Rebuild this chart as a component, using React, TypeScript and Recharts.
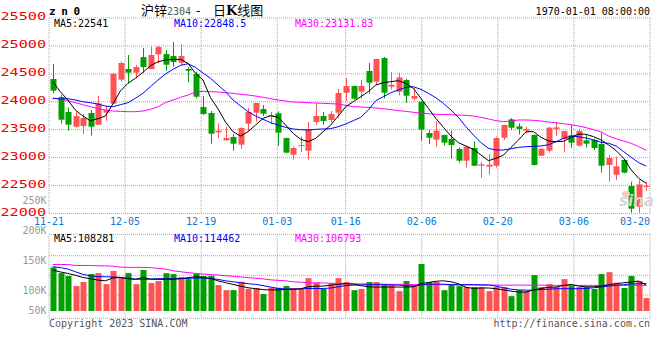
import { ComposedChart, Bar, Line, XAxis, YAxis, CartesianGrid } from "recharts";

const MONO = "DejaVu Sans Mono, monospace";
const RED = "#ff5252";
const GREEN = "#00a000";

// x axis: index of the trading day that carries a date label
const TICK_IDX = [0, 10, 20, 30, 39, 49, 59, 69, 79];
const TICK_LABELS = ["11-21", "12-05", "12-19", "01-03", "01-16", "02-06", "02-20", "03-06", "03-20"];
const PRICE_TICKS = [22000, 22500, 23000, 23500, 24000, 24500, 25000, 25500];
const VOL_TICKS = [50000, 100000, 150000, 200000, 250000];

const OPEN = [
  24408, 24085, 23817, 23554, 23566, 23799, 23590, 23805, 23966, 24396,
  24587, 24521, 24801, 24587, 24849, 24855, 24819, 24700, 24587, 24497,
  23906, 23799, 23453, 23310, 23369, 23232, 23608, 23805, 23871, 23745,
  23793, 23351, 23053, 23214, 23125, 23638, 23745, 23674, 23805, 24163,
  24282, 24181, 24551, 24360, 24783, 24270, 24181, 24390, 24055, 24002,
  23441, 23322, 23405, 23334, 23155, 22946, 23172, 22856, 22838, 22856,
  23357, 23686, 23560, 23483, 23405, 23035, 23125, 23513, 23334, 23399,
  23214, 23310, 23316, 23244, 22868, 22695, 22958, 22492, 22122, 22480,
];
const HIGH = [
  24676, 24121, 23894, 23823, 23781, 23853, 24109, 23924, 24521, 24724,
  24837, 24658, 24962, 24986, 24998, 24927, 25070, 25028, 24617, 24539,
  24103, 23835, 23614, 23554, 23423, 23542, 23888, 23978, 23942, 23817,
  23829, 23360, 23202, 23375, 23638, 23978, 23817, 23835, 24229, 24425,
  24290, 24390, 24694, 24770, 24801, 24533, 24521, 24414, 24241, 24010,
  23495, 23650, 23410, 23483, 23184, 23196, 23292, 22928, 23065, 23375,
  23590, 23709, 23614, 23554, 23410, 23165, 23554, 23644, 23480, 23590,
  23518, 23405, 23340, 23447, 23047, 23017, 22965, 22570, 22600, 22570,
];
const LOW = [
  24151, 23608, 23483, 23536, 23429, 23393, 23590, 23662, 23966, 24360,
  24330, 24420, 24521, 24587, 24688, 24557, 24628, 24652, 24348, 24062,
  23763, 23250, 23346, 23310, 23125, 23160, 23465, 23644, 23745, 23602,
  23214, 23077, 22964, 23101, 22964, 23590, 23590, 23630, 23721, 24014,
  24040, 24062, 24139, 24300, 24062, 24223, 24115, 23984, 24020, 23304,
  23244, 23196, 23220, 22981, 22910, 22820, 22850, 22641, 22695, 22820,
  23316, 23495, 23417, 23435, 22860, 23030, 23089, 23387, 23107, 23178,
  23196, 23184, 23137, 22731, 22570, 22600, 22720, 22015, 22015, 22409,
];
const CLOSE = [
  24199, 23680, 23590, 23745, 23709, 23554, 23972, 23853, 24503, 24694,
  24521, 24622, 24622, 24837, 24980, 24664, 24712, 24819, 24557, 24091,
  23781, 23429, 23483, 23351, 23250, 23530, 23817, 23978, 23787, 23757,
  23447, 23089, 23172, 23226, 23507, 23745, 23656, 23781, 24157, 24282,
  24055, 24282, 24342, 24766, 24163, 24306, 24437, 24109, 24103, 23501,
  23357, 23483, 23268, 23226, 22946, 23196, 22856, 22880, 22874, 23351,
  23584, 23536, 23513, 23513, 22868, 23160, 23536, 23542, 23477, 23268,
  23477, 23250, 23172, 22856, 22993, 22844, 22731, 22086, 22522, 22492,
];
const MA5 = [
  24360, 24181, 24032, 23853, 23745, 23662, 23697, 23745, 23960, 24193,
  24330, 24420, 24527, 24646, 24718, 24748, 24760, 24760, 24688, 24509,
  24390, 24074, 23872, 23637, 23465, 23387, 23465, 23584, 23704, 23751,
  23721, 23584, 23435, 23328, 23286, 23346, 23465, 23584, 23745, 23912,
  24002, 24091, 24181, 24300, 24342, 24360, 24378, 24330, 24241, 24062,
  23883, 23704, 23542, 23387, 23268, 23208, 23149, 23047, 22946, 22988,
  23047, 23184, 23316, 23465, 23465, 23363, 23298, 23286, 23292, 23363,
  23423, 23417, 23375, 23316, 23226, 23125, 22988, 22779, 22630, 22541,
];
const MA10 = [
  24062, 24050, 24056, 24032, 24002, 23984, 23960, 23924, 23912, 23948,
  23984, 24062, 24151, 24270, 24390, 24497, 24581, 24652, 24682, 24616,
  24515, 24420, 24300, 24181, 24032, 23924, 23823, 23745, 23686, 23626,
  23584, 23542, 23513, 23501, 23495, 23507, 23513, 23519, 23554, 23602,
  23662, 23721, 23853, 24020, 24091, 24163, 24211, 24258, 24270, 24223,
  24151, 24073, 23972, 23853, 23721, 23554, 23405, 23268, 23167, 23137,
  23137, 23160, 23184, 23196, 23202, 23208, 23232, 23286, 23346, 23387,
  23375, 23351, 23316, 23274, 23256, 23208, 23107, 23005, 22910, 22848.5,
];
const MA30 = [
  24067, 24050, 24020, 23984, 23948, 23912, 23877, 23853, 23835, 23829,
  23823, 23823, 23835, 23865, 23912, 23984, 24032, 24079, 24121, 24175,
  24187, 24181, 24175, 24163, 24151, 24133, 24121, 24103, 24079, 24056,
  24032, 24014, 23996, 23990, 23984, 23978, 23972, 23966, 23960, 23936,
  23912, 23906, 23900, 23888, 23877, 23859, 23841, 23829, 23811, 23799,
  23787, 23775, 23775, 23769, 23763, 23757, 23745, 23721, 23692, 23662,
  23644, 23656, 23674, 23674, 23668, 23656, 23638, 23626, 23608, 23590,
  23566, 23536, 23501, 23459, 23387, 23339, 23298, 23256, 23196, 23131.83,
];

const VOL = [
  182000, 158000, 146000, 104000, 121000, 154000, 158000, 112000, 167000, 139000,
  158000, 112000, 171000, 117000, 125000, 158000, 154000, 142000, 133000, 155000,
  146000, 147000, 108000, 87000, 87000, 122000, 92000, 96000, 71000, 97000,
  97000, 104000, 96000, 92000, 137000, 118000, 92000, 115000, 137000, 121000,
  87000, 92000, 121000, 121000, 108000, 108000, 83000, 125000, 108000, 196000,
  121000, 121000, 87000, 112000, 104000, 100000, 100000, 100000, 83000, 100000,
  100000, 62000, 87000, 83000, 150000, 100000, 112000, 100000, 133000, 104000,
  100000, 100000, 92000, 154000, 162000, 118000, 96000, 146000, 125000, 54000,
];
const VMA5 = [
  171000, 163000, 157000, 149000, 140000, 135000, 129000, 126000, 138000, 140000,
  135000, 132000, 140000, 133000, 132000, 132000, 132000, 135000, 139000, 143000,
  140000, 136000, 126000, 118000, 111000, 104000, 97000, 93000, 89000, 88000,
  88000, 90000, 90000, 93000, 101000, 104000, 104000, 108000, 111000, 114000,
  112000, 106000, 101000, 100000, 100000, 100000, 100000, 100000, 101000, 114000,
  119000, 124000, 126000, 122000, 114000, 99000, 94000, 96000, 96000, 93000,
  88000, 83000, 79000, 79000, 88000, 94000, 99000, 100000, 107000, 111000,
  104000, 101000, 101000, 104000, 110000, 114000, 118000, 121000, 125000, 108281,
];
const VMA10 = [
  185000, 181000, 175000, 164000, 153000, 147000, 143000, 143000, 142000, 140000,
  136000, 133000, 132000, 133000, 135000, 135000, 135000, 135000, 136000, 138000,
  138000, 136000, 132000, 126000, 122000, 118000, 114000, 111000, 106000, 100000,
  94000, 92000, 92000, 92000, 94000, 94000, 94000, 96000, 101000, 106000,
  108000, 109000, 110000, 110000, 110000, 109000, 108000, 106000, 104000, 108000,
  112000, 112000, 112000, 110000, 110000, 110000, 110000, 109000, 109000, 104000,
  97000, 91000, 88000, 87000, 87000, 90000, 91000, 93000, 93000, 93000,
  93000, 94000, 97000, 100000, 104000, 107000, 110000, 113000, 114000, 114462,
];
const VMA30 = [
  194000, 194000, 194000, 190000, 190000, 190000, 189000, 188000, 187000, 183000,
  182000, 182000, 182000, 181000, 178000, 175000, 168000, 164000, 160000, 157000,
  154000, 152000, 150000, 147000, 145000, 142000, 139000, 137000, 134000, 130000,
  128000, 126000, 122000, 120000, 118000, 117000, 117000, 116000, 115000, 114000,
  114000, 113000, 113000, 112000, 112000, 111000, 111000, 111000, 110000, 110000,
  110000, 110000, 110000, 109000, 109000, 109000, 109000, 108000, 108000, 108000,
  108000, 108000, 108000, 108000, 108000, 108000, 107000, 107000, 107000, 107000,
  107000, 107000, 107000, 107000, 107000, 107000, 107000, 107000, 107000, 106793,
];

const data = OPEN.map((open, i) => ({
  i,
  open,
  high: HIGH[i],
  low: LOW[i],
  close: CLOSE[i],
  range: [LOW[i], HIGH[i]],
  ma5: MA5[i],
  ma10: MA10[i],
  ma30: MA30[i],
  vol: VOL[i],
  vma5: VMA5[i],
  vma10: VMA10[i],
  vma30: VMA30[i],
}));

function Candle(props: any) {
  const { x, y, width, height, payload } = props;
  const { open, close, high, low } = payload;
  const color = close >= open ? RED : GREEN;
  const top = Math.min(y, y + height);
  const h = Math.abs(height);
  const k = h / (high - low || 1);
  const py = (v: number) => top + (high - v) * k;
  const cx = Math.round(x + width / 2);
  const bTop = py(Math.max(open, close));
  const bBot = py(Math.min(open, close));
  return (
    <g>
      <line x1={cx + 0.5} x2={cx + 0.5} y1={top} y2={top + h} stroke={color} strokeWidth={1} />
      <rect x={cx - 2.5} y={bTop} width={6} height={Math.max(bBot - bTop, 1)} fill={color} />
    </g>
  );
}

function VolBar(props: any) {
  const { x, y, width, height, payload } = props;
  const color = payload.close >= payload.open ? RED : GREEN;
  const cx = Math.round(x + width / 2);
  return <rect x={cx - 2.5} y={y} width={6} height={height} fill={color} />;
}

// date labels sit just under the price panel (its bottom edge is at 213.5)
const XTick = ({ x, payload }: any) => {
  const n = TICK_IDX.indexOf(payload.value);
  const last = n === TICK_IDX.length - 1;
  return (
    <text x={x} y={224.7} textAnchor={last ? "end" : "middle"} fill="#0a78d2" fontSize={10} fontFamily={MONO}>
      {TICK_LABELS[n]}
    </text>
  );
};

const PriceTick = ({ y, payload }: any) => (
  <text x={0.5} y={y + 2} textLength={45.5} lengthAdjust="spacingAndGlyphs" fill="#ee0000" fontSize={10} fontFamily={MONO}>
    {payload.value}
  </text>
);

// sina puts the volume labels on their own coarse scale; the lowest one is held inside the panel
const VolTick = ({ y, payload }: any) => (
  <text x={46.5} y={Math.min(y, 125.7) + 3.6} textAnchor="end" fill="#999" fontSize={10} fontFamily={MONO}>
    {payload.value / 1000 + "K"}
  </text>
);

export default function App() {
  return (
    <div style={{ position: "absolute", left: 0, top: 0, width: 660, height: 360, background: "#fff" }}>
      <div style={{ position: "absolute", left: 0, top: 0 }}>
        <ComposedChart width={660} height={232} data={data} margin={{ top: 18, right: 10, bottom: 0, left: 0 }}>
          <XAxis xAxisId="c" dataKey="i" type="category" hide />
          <XAxis xAxisId="g" dataKey="i" type="number" domain={[0, 79]} ticks={TICK_IDX} interval={0}
            allowDataOverflow height={18.5} axisLine={false} tickLine={false} tickSize={0} tickMargin={0} tick={<XTick />} />
          <YAxis yAxisId="p" domain={[22000, 25500]} ticks={PRICE_TICKS} interval={0} allowDataOverflow
            width={49} axisLine={false} tickLine={false} tick={<PriceTick />} />
          <CartesianGrid xAxisId="g" yAxisId="p" stroke="#a8a8a8" strokeDasharray="1 1" />
          <Bar xAxisId="c" yAxisId="p" dataKey="range" barSize={6} shape={(p: any) => <Candle {...p} />} isAnimationActive={false} />
          <Line xAxisId="c" yAxisId="p" dataKey="ma30" stroke="#ff00ff" strokeWidth={1} dot={false} isAnimationActive={false} />
          <Line xAxisId="c" yAxisId="p" dataKey="ma10" stroke="#0000ff" strokeWidth={1} dot={false} isAnimationActive={false} />
          <Line xAxisId="c" yAxisId="p" dataKey="ma5" stroke="#000000" strokeWidth={1} dot={false} isAnimationActive={false} />
        </ComposedChart>
      </div>
      <div style={{ position: "absolute", left: 0, top: 185 }}>
        <ComposedChart width={660} height={140} data={data} margin={{ top: 49.3, right: 10, bottom: 6.7, left: 0 }}>
          <XAxis xAxisId="c" dataKey="i" type="category" hide />
          <XAxis xAxisId="g" dataKey="i" type="number" domain={[0, 79]} ticks={TICK_IDX} interval={0} allowDataOverflow hide />
          <YAxis yAxisId="v" domain={[-30400, 320000]} allowDataOverflow hide />
          <YAxis yAxisId="lbl" domain={[53333, 193333]} ticks={VOL_TICKS} interval={0} allowDataOverflow
            width={49} axisLine={false} tickLine={false} tick={<VolTick />} />
          <CartesianGrid xAxisId="g" yAxisId="v" stroke="#a8a8a8" strokeDasharray="1 1" horizontalPoints={[49.3, 70.7, 90.3, 110, 133.3]} />
          <Bar xAxisId="c" yAxisId="v" dataKey="vol" barSize={6} shape={(p: any) => <VolBar {...p} />} isAnimationActive={false} />
          <Line xAxisId="c" yAxisId="v" dataKey="vma30" stroke="#ff00ff" strokeWidth={1} dot={false} isAnimationActive={false} />
          <Line xAxisId="c" yAxisId="v" dataKey="vma10" stroke="#0000ff" strokeWidth={1} dot={false} isAnimationActive={false} />
          <Line xAxisId="c" yAxisId="v" dataKey="vma5" stroke="#000000" strokeWidth={1} dot={false} isAnimationActive={false} />
        </ComposedChart>
      </div>
      <svg width={660} height={360} style={{ position: "absolute", left: 0, top: 0, pointerEvents: "none" }}>
        <text x={49} y={15} fontSize={11} fontWeight="bold" fontFamily={MONO} xmlSpace="preserve" textLength={31} lengthAdjust="spacing">z n 0</text>
        <text x={141} y={15} fontSize={13} fontFamily="Noto Sans CJK SC">
          沪锌<tspan fontFamily={MONO} fontSize={10} fill="#555">2304</tspan>
          <tspan x={196}>-</tspan>
          <tspan x={213}>日</tspan><tspan fontWeight="bold" fontFamily="DejaVu Serif">K</tspan>线图
        </text>
        <text x={650} y={15} textAnchor="end" fontSize={10} fontFamily={MONO}>1970-01-01 08:00:00</text>
        <text x={54} y={26.5} fontSize={10} fontFamily={MONO}>MA5:22541</text>
        <text x={174} y={26.5} fontSize={10} fontFamily={MONO} fill="#0000ff">MA10:22848.5</text>
        <text x={295} y={26.5} fontSize={10} fontFamily={MONO} fill="#ff00ff">MA30:23131.83</text>
        <text x={54} y={241.6} fontSize={10} fontFamily={MONO}>MA5:108281</text>
        <text x={174} y={241.6} fontSize={10} fontFamily={MONO} fill="#0000ff">MA10:114462</text>
        <text x={295} y={241.6} fontSize={10} fontFamily={MONO} fill="#ff00ff">MA30:106793</text>
        <text x={49} y={327.3} fontSize={10} fontFamily={MONO} fill="#555">Copyright 2023 SINA.COM</text>
        <text x={650} y={327.3} textAnchor="end" fontSize={10} fontFamily={MONO} fill="#555">http://finance.sina.com.cn</text>
        <ellipse cx={626} cy={194} rx={4} ry={3} fill="#f6c9bd" />
        <text x={619} y={206} fontSize={15} fontStyle="italic" fontWeight="bold" fontFamily="DejaVu Sans" fill="#d6d6d6">sina</text>
      </svg>
    </div>
  );
}
